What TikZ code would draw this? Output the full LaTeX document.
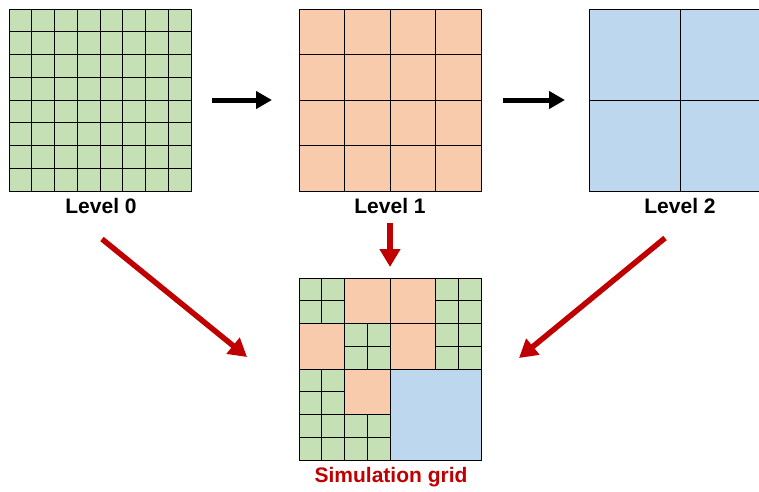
\documentclass[tikz,border=0pt]{standalone}
\usepackage{fontspec}
\setmainfont{Liberation Sans}
\usetikzlibrary{arrows.meta,calc}
\definecolor{cgreen}{HTML}{C5E0B4}
\definecolor{corange}{HTML}{F8CBAD}
\definecolor{cblue}{HTML}{BDD7EE}
\definecolor{cred}{HTML}{C00000}
\begin{document}
\begin{tikzpicture}[x=1pt,y=-1pt,
  gridbox/.style={draw=black,line width=1pt,minimum size=182pt,inner sep=0pt,outer sep=0pt,anchor=north west},
  gl/.style={draw=black,line width=0.9pt},
  lbl/.style={font=\fontsize{21}{25}\selectfont\bfseries,inner sep=0pt,anchor=base},
  blackarrow/.style={line width=5pt,-{Triangle[length=16pt,width=17pt]}},
  redarrow/.style={draw=cred,line width=5.5pt,-{Triangle[length=18pt,width=20pt]},color=cred}]
\clip (0,0) rectangle (759,491);
% Level 0
\node[gridbox,fill=cgreen] (L0) at (9,9) {};
\foreach \i in {1,...,7}{
  \draw[gl] (9+\i*22.75,9) -- (9+\i*22.75,191);
  \draw[gl] (9,9+\i*22.75) -- (191,9+\i*22.75);
}
% Level 1
\node[gridbox,fill=corange] (L1) at (299,9) {};
\foreach \i in {1,...,3}{
  \draw[gl] (299+\i*45.5,9) -- (299+\i*45.5,191);
  \draw[gl] (299,9+\i*45.5) -- (481,9+\i*45.5);
}
% Level 2
\node[gridbox,fill=cblue] (L2) at (589,9) {};
\draw[gl] (680,9) -- (680,191);
\draw[gl] (589,100) -- (771,100);
% Simulation grid
\node[gridbox,fill=cgreen] (S) at (299,278) {};
\foreach \r/\c in {0/1,0/2,1/0,1/2,2/1}{
  \fill[corange] (299+\c*45.5,278+\r*45.5) rectangle ++(45.5,45.5);
}
\fill[cblue] (390,369) rectangle (481,460);
\foreach \r/\c in {0/0,0/3,1/1,1/3,2/0,3/0,3/1}{
  \draw[gl] (299+\c*45.5+22.75,278+\r*45.5) -- ++(0,45.5);
  \draw[gl] (299+\c*45.5,278+\r*45.5+22.75) -- ++(45.5,0);
}
\foreach \r/\c in {0/0,0/1,0/2,0/3,1/0,1/1,1/2,1/3,2/0,2/1,3/0,3/1}{
  \draw[gl] (299+\c*45.5,278+\r*45.5) rectangle ++(45.5,45.5);
}
\draw[gl] (390,369) rectangle (481,460);
\node[gridbox] at (299,278) {};
% Labels
\node[lbl] (t0) at (101,213) {Level 0};
\node[lbl] (t1) at (390,213) {Level 1};
\node[lbl] (t2) at (680,213) {Level 2};
\node[lbl,text=cred] (ts) at (391,482) {Simulation grid};
% Black arrows
\draw[blackarrow,shorten <=21pt,shorten >=27pt] (L0.east) -- (L1.west);
\draw[blackarrow,shorten <=22pt,shorten >=24pt] (L1.east) -- (L2.west);
% Red arrows
\coordinate (r0s) at (102,239);
\coordinate (r0e) at (247,357);
\coordinate (r1s) at (390,223);
\coordinate (r1e) at (390,267);
\coordinate (r2s) at (665,238);
\coordinate (r2e) at (519,358);
\draw[redarrow] (r0s) -- (r0e);
\draw[redarrow] (r1s) -- (r1e);
\draw[redarrow] (r2s) -- (r2e);
\end{tikzpicture}
\end{document}
